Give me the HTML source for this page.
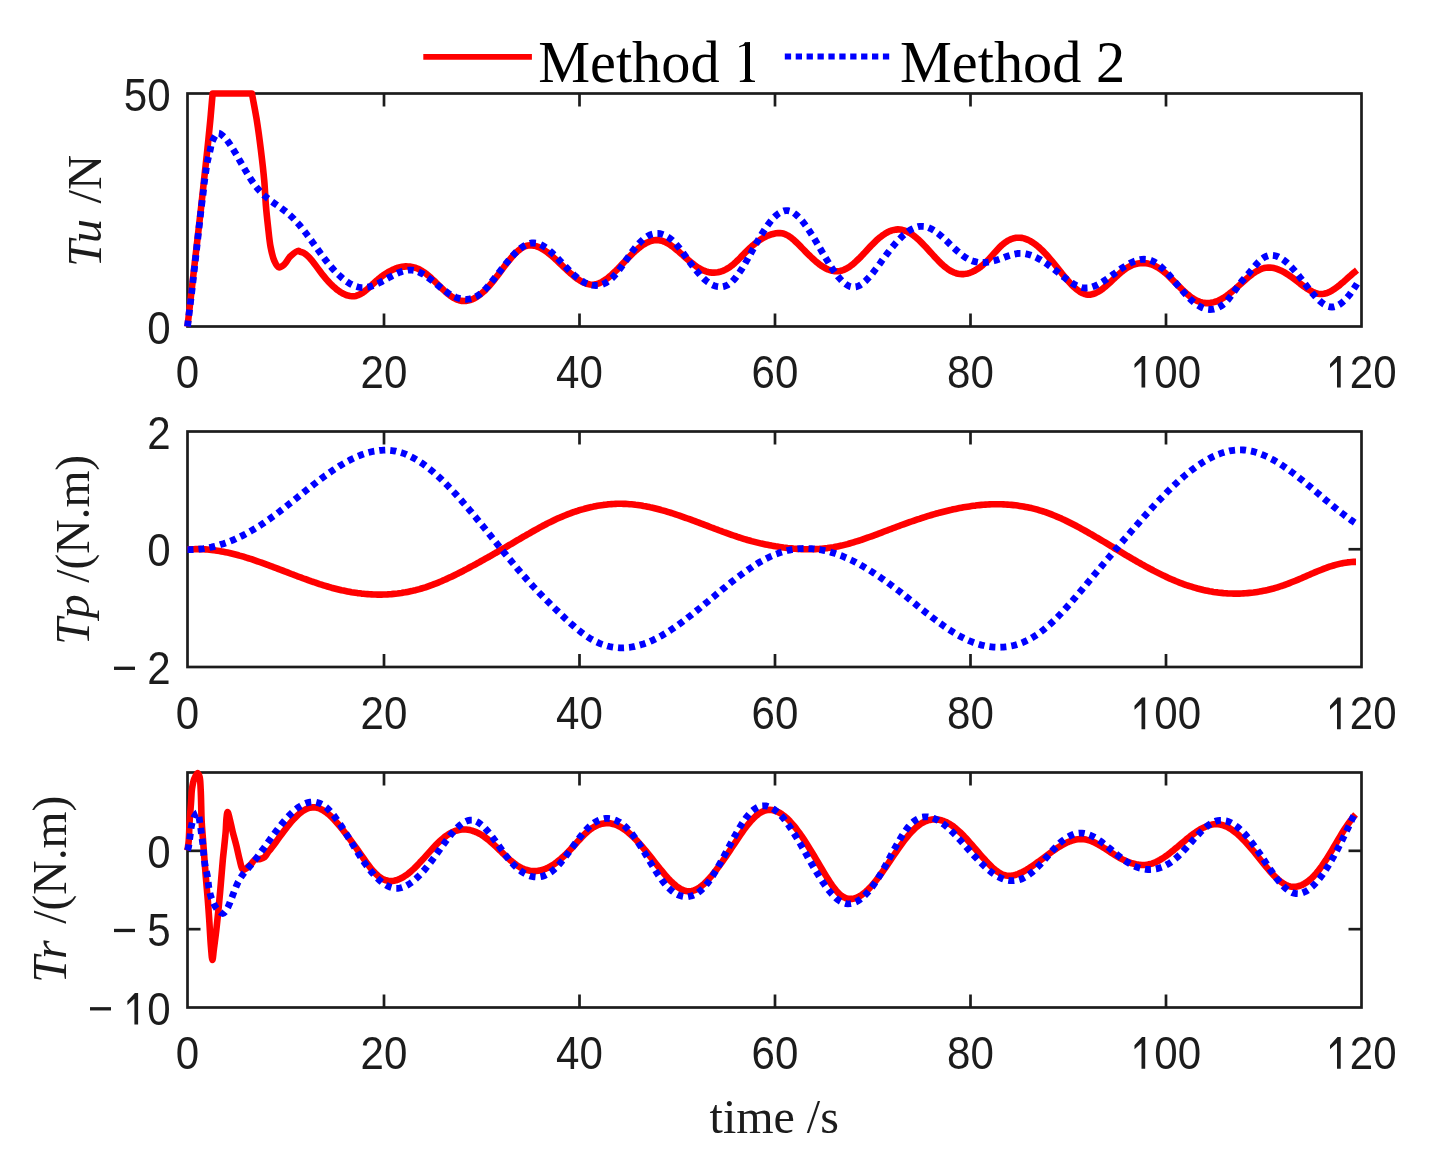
<!DOCTYPE html>
<html><head><meta charset="utf-8"><style>html,body{margin:0;padding:0;background:#fff;overflow:hidden}svg{display:block;will-change:transform}</style></head>
<body><svg width="1432" height="1157" viewBox="0 0 1432 1157">
<rect width="1432" height="1157" fill="#fff"/>
<rect x="187.5" y="93.5" width="1174.0" height="233.0" fill="none" stroke="#1c1c1c" stroke-width="2.7"/>
<text transform="translate(175.80,387.60) scale(0.895,1.0)" font-family="'Liberation Sans', sans-serif" font-size="47" text-anchor="start" fill="#1c1c1c" >0</text>
<line x1="384.00" y1="326.50" x2="384.00" y2="313.50" stroke="#1c1c1c" stroke-width="2.7"/>
<line x1="384.00" y1="93.50" x2="384.00" y2="106.50" stroke="#1c1c1c" stroke-width="2.7"/>
<text transform="translate(360.61,387.60) scale(0.895,1.0)" font-family="'Liberation Sans', sans-serif" font-size="47" text-anchor="start" fill="#1c1c1c" >2</text>
<text transform="translate(384.00,387.60) scale(0.895,1.0)" font-family="'Liberation Sans', sans-serif" font-size="47" text-anchor="start" fill="#1c1c1c" >0</text>
<line x1="579.50" y1="326.50" x2="579.50" y2="313.50" stroke="#1c1c1c" stroke-width="2.7"/>
<line x1="579.50" y1="93.50" x2="579.50" y2="106.50" stroke="#1c1c1c" stroke-width="2.7"/>
<text transform="translate(556.11,387.60) scale(0.895,1.0)" font-family="'Liberation Sans', sans-serif" font-size="47" text-anchor="start" fill="#1c1c1c" >4</text>
<text transform="translate(579.50,387.60) scale(0.895,1.0)" font-family="'Liberation Sans', sans-serif" font-size="47" text-anchor="start" fill="#1c1c1c" >0</text>
<line x1="775.00" y1="326.50" x2="775.00" y2="313.50" stroke="#1c1c1c" stroke-width="2.7"/>
<line x1="775.00" y1="93.50" x2="775.00" y2="106.50" stroke="#1c1c1c" stroke-width="2.7"/>
<text transform="translate(751.61,387.60) scale(0.895,1.0)" font-family="'Liberation Sans', sans-serif" font-size="47" text-anchor="start" fill="#1c1c1c" >6</text>
<text transform="translate(775.00,387.60) scale(0.895,1.0)" font-family="'Liberation Sans', sans-serif" font-size="47" text-anchor="start" fill="#1c1c1c" >0</text>
<line x1="970.50" y1="326.50" x2="970.50" y2="313.50" stroke="#1c1c1c" stroke-width="2.7"/>
<line x1="970.50" y1="93.50" x2="970.50" y2="106.50" stroke="#1c1c1c" stroke-width="2.7"/>
<text transform="translate(947.11,387.60) scale(0.895,1.0)" font-family="'Liberation Sans', sans-serif" font-size="47" text-anchor="start" fill="#1c1c1c" >8</text>
<text transform="translate(970.50,387.60) scale(0.895,1.0)" font-family="'Liberation Sans', sans-serif" font-size="47" text-anchor="start" fill="#1c1c1c" >0</text>
<line x1="1166.00" y1="326.50" x2="1166.00" y2="313.50" stroke="#1c1c1c" stroke-width="2.7"/>
<line x1="1166.00" y1="93.50" x2="1166.00" y2="106.50" stroke="#1c1c1c" stroke-width="2.7"/>
<path d="M1141.51,387.60 L1141.51,361.80 L1134.51,368.10 L1134.51,364.10 L1142.01,356.00 L1145.21,356.00 L1145.21,387.60 Z" fill="#1c1c1c"/>
<text transform="translate(1154.30,387.60) scale(0.895,1.0)" font-family="'Liberation Sans', sans-serif" font-size="47" text-anchor="start" fill="#1c1c1c" >0</text>
<text transform="translate(1177.70,387.60) scale(0.895,1.0)" font-family="'Liberation Sans', sans-serif" font-size="47" text-anchor="start" fill="#1c1c1c" >0</text>
<path d="M1337.01,387.60 L1337.01,361.80 L1330.01,368.10 L1330.01,364.10 L1337.51,356.00 L1340.71,356.00 L1340.71,387.60 Z" fill="#1c1c1c"/>
<text transform="translate(1349.80,387.60) scale(0.895,1.0)" font-family="'Liberation Sans', sans-serif" font-size="47" text-anchor="start" fill="#1c1c1c" >2</text>
<text transform="translate(1373.20,387.60) scale(0.895,1.0)" font-family="'Liberation Sans', sans-serif" font-size="47" text-anchor="start" fill="#1c1c1c" >0</text>
<text transform="translate(147.21,343.50) scale(0.895,1.0)" font-family="'Liberation Sans', sans-serif" font-size="47" text-anchor="start" fill="#1c1c1c" >0</text>
<text transform="translate(123.81,110.50) scale(0.895,1.0)" font-family="'Liberation Sans', sans-serif" font-size="47" text-anchor="start" fill="#1c1c1c" >5</text>
<text transform="translate(147.21,110.50) scale(0.895,1.0)" font-family="'Liberation Sans', sans-serif" font-size="47" text-anchor="start" fill="#1c1c1c" >0</text>
<rect x="187.5" y="431.5" width="1174.0" height="235.5" fill="none" stroke="#1c1c1c" stroke-width="2.7"/>
<text transform="translate(175.80,729.20) scale(0.895,1.0)" font-family="'Liberation Sans', sans-serif" font-size="47" text-anchor="start" fill="#1c1c1c" >0</text>
<line x1="384.00" y1="667.00" x2="384.00" y2="654.00" stroke="#1c1c1c" stroke-width="2.7"/>
<line x1="384.00" y1="431.50" x2="384.00" y2="444.50" stroke="#1c1c1c" stroke-width="2.7"/>
<text transform="translate(360.61,729.20) scale(0.895,1.0)" font-family="'Liberation Sans', sans-serif" font-size="47" text-anchor="start" fill="#1c1c1c" >2</text>
<text transform="translate(384.00,729.20) scale(0.895,1.0)" font-family="'Liberation Sans', sans-serif" font-size="47" text-anchor="start" fill="#1c1c1c" >0</text>
<line x1="579.50" y1="667.00" x2="579.50" y2="654.00" stroke="#1c1c1c" stroke-width="2.7"/>
<line x1="579.50" y1="431.50" x2="579.50" y2="444.50" stroke="#1c1c1c" stroke-width="2.7"/>
<text transform="translate(556.11,729.20) scale(0.895,1.0)" font-family="'Liberation Sans', sans-serif" font-size="47" text-anchor="start" fill="#1c1c1c" >4</text>
<text transform="translate(579.50,729.20) scale(0.895,1.0)" font-family="'Liberation Sans', sans-serif" font-size="47" text-anchor="start" fill="#1c1c1c" >0</text>
<line x1="775.00" y1="667.00" x2="775.00" y2="654.00" stroke="#1c1c1c" stroke-width="2.7"/>
<line x1="775.00" y1="431.50" x2="775.00" y2="444.50" stroke="#1c1c1c" stroke-width="2.7"/>
<text transform="translate(751.61,729.20) scale(0.895,1.0)" font-family="'Liberation Sans', sans-serif" font-size="47" text-anchor="start" fill="#1c1c1c" >6</text>
<text transform="translate(775.00,729.20) scale(0.895,1.0)" font-family="'Liberation Sans', sans-serif" font-size="47" text-anchor="start" fill="#1c1c1c" >0</text>
<line x1="970.50" y1="667.00" x2="970.50" y2="654.00" stroke="#1c1c1c" stroke-width="2.7"/>
<line x1="970.50" y1="431.50" x2="970.50" y2="444.50" stroke="#1c1c1c" stroke-width="2.7"/>
<text transform="translate(947.11,729.20) scale(0.895,1.0)" font-family="'Liberation Sans', sans-serif" font-size="47" text-anchor="start" fill="#1c1c1c" >8</text>
<text transform="translate(970.50,729.20) scale(0.895,1.0)" font-family="'Liberation Sans', sans-serif" font-size="47" text-anchor="start" fill="#1c1c1c" >0</text>
<line x1="1166.00" y1="667.00" x2="1166.00" y2="654.00" stroke="#1c1c1c" stroke-width="2.7"/>
<line x1="1166.00" y1="431.50" x2="1166.00" y2="444.50" stroke="#1c1c1c" stroke-width="2.7"/>
<path d="M1141.51,729.20 L1141.51,703.40 L1134.51,709.70 L1134.51,705.70 L1142.01,697.60 L1145.21,697.60 L1145.21,729.20 Z" fill="#1c1c1c"/>
<text transform="translate(1154.30,729.20) scale(0.895,1.0)" font-family="'Liberation Sans', sans-serif" font-size="47" text-anchor="start" fill="#1c1c1c" >0</text>
<text transform="translate(1177.70,729.20) scale(0.895,1.0)" font-family="'Liberation Sans', sans-serif" font-size="47" text-anchor="start" fill="#1c1c1c" >0</text>
<path d="M1337.01,729.20 L1337.01,703.40 L1330.01,709.70 L1330.01,705.70 L1337.51,697.60 L1340.71,697.60 L1340.71,729.20 Z" fill="#1c1c1c"/>
<text transform="translate(1349.80,729.20) scale(0.895,1.0)" font-family="'Liberation Sans', sans-serif" font-size="47" text-anchor="start" fill="#1c1c1c" >2</text>
<text transform="translate(1373.20,729.20) scale(0.895,1.0)" font-family="'Liberation Sans', sans-serif" font-size="47" text-anchor="start" fill="#1c1c1c" >0</text>
<text transform="translate(147.21,684.00) scale(0.895,1.0)" font-family="'Liberation Sans', sans-serif" font-size="47" text-anchor="start" fill="#1c1c1c" >2</text>
<rect x="114.00" y="666.65" width="21" height="3.3" fill="#1c1c1c"/>
<line x1="187.50" y1="549.25" x2="200.50" y2="549.25" stroke="#1c1c1c" stroke-width="2.7"/>
<line x1="1361.50" y1="549.25" x2="1348.50" y2="549.25" stroke="#1c1c1c" stroke-width="2.7"/>
<text transform="translate(147.21,566.25) scale(0.895,1.0)" font-family="'Liberation Sans', sans-serif" font-size="47" text-anchor="start" fill="#1c1c1c" >0</text>
<text transform="translate(147.21,448.50) scale(0.895,1.0)" font-family="'Liberation Sans', sans-serif" font-size="47" text-anchor="start" fill="#1c1c1c" >2</text>
<rect x="187.5" y="772.5" width="1174.0" height="235.0" fill="none" stroke="#1c1c1c" stroke-width="2.7"/>
<text transform="translate(175.80,1068.70) scale(0.895,1.0)" font-family="'Liberation Sans', sans-serif" font-size="47" text-anchor="start" fill="#1c1c1c" >0</text>
<line x1="384.00" y1="1007.50" x2="384.00" y2="994.50" stroke="#1c1c1c" stroke-width="2.7"/>
<line x1="384.00" y1="772.50" x2="384.00" y2="785.50" stroke="#1c1c1c" stroke-width="2.7"/>
<text transform="translate(360.61,1068.70) scale(0.895,1.0)" font-family="'Liberation Sans', sans-serif" font-size="47" text-anchor="start" fill="#1c1c1c" >2</text>
<text transform="translate(384.00,1068.70) scale(0.895,1.0)" font-family="'Liberation Sans', sans-serif" font-size="47" text-anchor="start" fill="#1c1c1c" >0</text>
<line x1="579.50" y1="1007.50" x2="579.50" y2="994.50" stroke="#1c1c1c" stroke-width="2.7"/>
<line x1="579.50" y1="772.50" x2="579.50" y2="785.50" stroke="#1c1c1c" stroke-width="2.7"/>
<text transform="translate(556.11,1068.70) scale(0.895,1.0)" font-family="'Liberation Sans', sans-serif" font-size="47" text-anchor="start" fill="#1c1c1c" >4</text>
<text transform="translate(579.50,1068.70) scale(0.895,1.0)" font-family="'Liberation Sans', sans-serif" font-size="47" text-anchor="start" fill="#1c1c1c" >0</text>
<line x1="775.00" y1="1007.50" x2="775.00" y2="994.50" stroke="#1c1c1c" stroke-width="2.7"/>
<line x1="775.00" y1="772.50" x2="775.00" y2="785.50" stroke="#1c1c1c" stroke-width="2.7"/>
<text transform="translate(751.61,1068.70) scale(0.895,1.0)" font-family="'Liberation Sans', sans-serif" font-size="47" text-anchor="start" fill="#1c1c1c" >6</text>
<text transform="translate(775.00,1068.70) scale(0.895,1.0)" font-family="'Liberation Sans', sans-serif" font-size="47" text-anchor="start" fill="#1c1c1c" >0</text>
<line x1="970.50" y1="1007.50" x2="970.50" y2="994.50" stroke="#1c1c1c" stroke-width="2.7"/>
<line x1="970.50" y1="772.50" x2="970.50" y2="785.50" stroke="#1c1c1c" stroke-width="2.7"/>
<text transform="translate(947.11,1068.70) scale(0.895,1.0)" font-family="'Liberation Sans', sans-serif" font-size="47" text-anchor="start" fill="#1c1c1c" >8</text>
<text transform="translate(970.50,1068.70) scale(0.895,1.0)" font-family="'Liberation Sans', sans-serif" font-size="47" text-anchor="start" fill="#1c1c1c" >0</text>
<line x1="1166.00" y1="1007.50" x2="1166.00" y2="994.50" stroke="#1c1c1c" stroke-width="2.7"/>
<line x1="1166.00" y1="772.50" x2="1166.00" y2="785.50" stroke="#1c1c1c" stroke-width="2.7"/>
<path d="M1141.51,1068.70 L1141.51,1042.90 L1134.51,1049.20 L1134.51,1045.20 L1142.01,1037.10 L1145.21,1037.10 L1145.21,1068.70 Z" fill="#1c1c1c"/>
<text transform="translate(1154.30,1068.70) scale(0.895,1.0)" font-family="'Liberation Sans', sans-serif" font-size="47" text-anchor="start" fill="#1c1c1c" >0</text>
<text transform="translate(1177.70,1068.70) scale(0.895,1.0)" font-family="'Liberation Sans', sans-serif" font-size="47" text-anchor="start" fill="#1c1c1c" >0</text>
<path d="M1337.01,1068.70 L1337.01,1042.90 L1330.01,1049.20 L1330.01,1045.20 L1337.51,1037.10 L1340.71,1037.10 L1340.71,1068.70 Z" fill="#1c1c1c"/>
<text transform="translate(1349.80,1068.70) scale(0.895,1.0)" font-family="'Liberation Sans', sans-serif" font-size="47" text-anchor="start" fill="#1c1c1c" >2</text>
<text transform="translate(1373.20,1068.70) scale(0.895,1.0)" font-family="'Liberation Sans', sans-serif" font-size="47" text-anchor="start" fill="#1c1c1c" >0</text>
<path d="M134.41,1024.50 L134.41,998.70 L127.41,1005.00 L127.41,1001.00 L134.91,992.90 L138.11,992.90 L138.11,1024.50 Z" fill="#1c1c1c"/>
<text transform="translate(147.21,1024.50) scale(0.895,1.0)" font-family="'Liberation Sans', sans-serif" font-size="47" text-anchor="start" fill="#1c1c1c" >0</text>
<rect x="90.00" y="1007.15" width="21" height="3.3" fill="#1c1c1c"/>
<line x1="187.50" y1="929.17" x2="200.50" y2="929.17" stroke="#1c1c1c" stroke-width="2.7"/>
<line x1="1361.50" y1="929.17" x2="1348.50" y2="929.17" stroke="#1c1c1c" stroke-width="2.7"/>
<text transform="translate(147.21,946.17) scale(0.895,1.0)" font-family="'Liberation Sans', sans-serif" font-size="47" text-anchor="start" fill="#1c1c1c" >5</text>
<rect x="114.00" y="928.82" width="21" height="3.3" fill="#1c1c1c"/>
<line x1="187.50" y1="850.83" x2="200.50" y2="850.83" stroke="#1c1c1c" stroke-width="2.7"/>
<line x1="1361.50" y1="850.83" x2="1348.50" y2="850.83" stroke="#1c1c1c" stroke-width="2.7"/>
<text transform="translate(147.21,867.83) scale(0.895,1.0)" font-family="'Liberation Sans', sans-serif" font-size="47" text-anchor="start" fill="#1c1c1c" >0</text>
<text transform="translate(100.70,266.95) rotate(-90)" font-family="'Liberation Serif', serif" font-size="48" font-style="italic" fill="#1c1c1c">Tu</text>
<text transform="translate(100.70,203.50) rotate(-90) scale(1.015,1)" font-family="'Liberation Serif', serif" font-size="48" fill="#1c1c1c">/N</text>
<text transform="translate(89.40,644.95) rotate(-90)" font-family="'Liberation Serif', serif" font-size="48" font-style="italic" fill="#1c1c1c">Tp</text>
<text transform="translate(89.40,582.80) rotate(-90) scale(0.99,1)" font-family="'Liberation Serif', serif" font-size="48" fill="#1c1c1c">/(N.m)</text>
<text transform="translate(65.60,983.05) rotate(-90)" font-family="'Liberation Serif', serif" font-size="48" font-style="italic" fill="#1c1c1c">Tr</text>
<text transform="translate(65.60,923.70) rotate(-90) scale(0.99,1)" font-family="'Liberation Serif', serif" font-size="48" fill="#1c1c1c">/(N.m)</text>
<text transform="translate(774.20,1132.80) scale(1.0,1.0)" font-family="'Liberation Serif', serif" font-size="48" text-anchor="middle" fill="#1c1c1c" >time /s</text>
<line x1="423.3" y1="56.9" x2="531.9" y2="56.9" stroke="#ff0000" stroke-width="5.8"/>
<text transform="translate(538.20,82.00) scale(1.0,1.0)" font-family="'Liberation Serif', serif" font-size="58.3" text-anchor="start" fill="#000" >Method</text>
<path d="M745.0,42.2 L750.0,41.9 L750.0,81 L745.0,81 Z" fill="#000"/><path d="M739.8,82.1 L755.0,82.1 L755.0,80.7 L751.8,80.2 L750.0,78.8 L745.0,78.8 L743.2,80.2 L739.8,80.7 Z" fill="#000"/><path d="M739.0,46.6 Q740.5,45.0 742.2,44.9 Q743.6,44.8 745.0,42.3 L746,43 L746,45.6 Q744.4,46.2 742.6,46.3 Q741.0,46.4 739.6,47.6 Z" fill="#000"/>
<line x1="784.8" y1="56.6" x2="889.5" y2="56.6" stroke="#0000ff" stroke-width="6" stroke-dasharray="6.3 4.6"/>
<text transform="translate(900.00,81.80) scale(1.0,1.0)" font-family="'Liberation Serif', serif" font-size="58.3" text-anchor="start" fill="#000" >Method 2</text>
<clipPath id="c1"><rect x="180" y="90" width="1185" height="240"/></clipPath>
<g clip-path="url(#c1)"><path d="M187.50,326.50 C189.83,306.00 192.20,285.17 194.50,265.00 C196.73,245.46 199.38,222.75 201.10,207.30 C202.25,196.93 202.92,190.35 203.90,181.30 C204.97,171.40 206.22,160.57 207.30,150.20 C208.38,139.84 209.53,128.42 210.40,119.10 C211.11,111.50 211.77,102.92 212.20,98.40 C212.41,96.20 212.53,95.13 212.70,93.50 L251.90,93.50 C253.47,102.03 255.16,110.14 256.60,119.10 C258.18,128.95 259.62,139.82 260.90,150.20 C262.18,160.56 263.45,171.56 264.30,181.30 C265.05,189.89 265.25,197.83 265.90,205.60 C266.50,212.78 267.22,219.40 268.00,226.30 C268.78,233.20 269.40,240.87 270.60,247.00 C271.58,252.02 272.53,256.88 274.20,260.50 C275.49,263.29 277.07,266.84 278.90,267.30 C280.42,267.68 282.36,266.07 284.00,264.70 C286.21,262.85 287.84,258.75 290.30,256.40 C292.72,254.09 297.00,250.66 298.60,250.70 C299.27,250.71 299.53,251.40 300.00,251.76 L300.0,251.8 302.0,252.2 304.0,253.1 306.0,254.5 308.0,256.2 310.0,258.3 312.0,260.7 314.0,263.2 316.0,265.9 318.0,268.6 320.0,271.3 322.0,273.9 324.0,276.4 326.0,278.8 328.0,281.1 330.0,283.2 332.0,285.3 334.0,287.1 336.0,288.8 338.0,290.4 340.0,291.8 342.0,293.0 344.0,294.1 346.0,295.0 348.0,295.6 350.0,296.0 352.0,296.2 354.0,296.2 356.0,295.9 358.0,295.2 360.0,294.3 362.0,293.2 364.0,291.8 366.0,290.2 368.0,288.5 370.0,286.7 372.0,284.8 374.0,283.0 376.0,281.1 378.0,279.4 380.0,277.8 382.0,276.2 384.0,274.8 386.0,273.5 388.0,272.2 390.0,271.1 392.0,270.1 394.0,269.2 396.0,268.4 398.0,267.7 400.0,267.2 402.0,266.8 404.0,266.6 406.0,266.4 408.0,266.5 410.0,266.6 412.0,266.9 414.0,267.4 416.0,268.0 418.0,268.8 420.0,269.8 422.0,270.9 424.0,272.2 426.0,273.7 428.0,275.3 430.0,277.0 432.0,278.9 434.0,280.7 436.0,282.7 438.0,284.6 440.0,286.6 442.0,288.5 444.0,290.4 446.0,292.2 448.0,293.9 450.0,295.5 452.0,296.9 454.0,298.1 456.0,299.1 458.0,299.9 460.0,300.5 462.0,300.9 464.0,301.0 466.0,300.9 468.0,300.6 470.0,300.1 472.0,299.4 474.0,298.5 476.0,297.4 478.0,296.1 480.0,294.6 482.0,293.0 484.0,291.3 486.0,289.3 488.0,287.2 490.0,285.0 492.0,282.7 494.0,280.2 496.0,277.6 498.0,275.0 500.0,272.3 502.0,269.6 504.0,266.9 506.0,264.3 508.0,261.7 510.0,259.3 512.0,256.9 514.0,254.7 516.0,252.7 518.0,250.9 520.0,249.3 522.0,247.9 524.0,246.8 526.0,246.0 528.0,245.5 530.0,245.3 532.0,245.4 534.0,245.6 536.0,246.1 538.0,246.8 540.0,247.7 542.0,248.8 544.0,250.0 546.0,251.4 548.0,252.8 550.0,254.4 552.0,256.1 554.0,257.9 556.0,259.7 558.0,261.6 560.0,263.5 562.0,265.4 564.0,267.3 566.0,269.2 568.0,271.1 570.0,272.9 572.0,274.6 574.0,276.3 576.0,277.8 578.0,279.3 580.0,280.6 582.0,281.7 584.0,282.7 586.0,283.5 588.0,284.1 590.0,284.5 592.0,284.7 594.0,284.6 596.0,284.3 598.0,283.7 600.0,282.9 602.0,281.9 604.0,280.7 606.0,279.3 608.0,277.8 610.0,276.2 612.0,274.4 614.0,272.5 616.0,270.6 618.0,268.6 620.0,266.5 622.0,264.4 624.0,262.3 626.0,260.2 628.0,258.1 630.0,256.1 632.0,254.1 634.0,252.2 636.0,250.4 638.0,248.7 640.0,247.1 642.0,245.6 644.0,244.3 646.0,243.1 648.0,242.2 650.0,241.3 652.0,240.7 654.0,240.3 656.0,240.1 658.0,240.1 660.0,240.4 662.0,240.8 664.0,241.6 666.0,242.5 668.0,243.5 670.0,244.8 672.0,246.2 674.0,247.7 676.0,249.3 678.0,250.9 680.0,252.7 682.0,254.4 684.0,256.2 686.0,258.0 688.0,259.8 690.0,261.5 692.0,263.1 694.0,264.7 696.0,266.2 698.0,267.5 700.0,268.7 702.0,269.8 704.0,270.7 706.0,271.4 708.0,272.0 710.0,272.4 712.0,272.6 714.0,272.6 716.0,272.5 718.0,272.3 720.0,271.8 722.0,271.2 724.0,270.4 726.0,269.4 728.0,268.2 730.0,266.9 732.0,265.4 734.0,263.7 736.0,261.9 738.0,260.0 740.0,258.0 742.0,255.9 744.0,253.9 746.0,251.8 748.0,249.8 750.0,247.9 752.0,246.1 754.0,244.4 756.0,242.8 758.0,241.3 760.0,239.9 762.0,238.7 764.0,237.5 766.0,236.5 768.0,235.6 770.0,234.9 772.0,234.2 774.0,233.7 776.0,233.3 778.0,233.1 780.0,233.1 782.0,233.3 784.0,233.8 786.0,234.6 788.0,235.6 790.0,236.9 792.0,238.4 794.0,240.1 796.0,242.0 798.0,243.9 800.0,245.9 802.0,248.0 804.0,250.0 806.0,252.1 808.0,254.1 810.0,256.0 812.0,258.0 814.0,259.8 816.0,261.6 818.0,263.2 820.0,264.8 822.0,266.2 824.0,267.4 826.0,268.5 828.0,269.5 830.0,270.2 832.0,270.8 834.0,271.1 836.0,271.3 838.0,271.2 840.0,271.0 842.0,270.5 844.0,269.8 846.0,268.8 848.0,267.7 850.0,266.4 852.0,264.9 854.0,263.2 856.0,261.4 858.0,259.5 860.0,257.6 862.0,255.5 864.0,253.4 866.0,251.2 868.0,249.0 870.0,246.9 872.0,244.8 874.0,242.8 876.0,240.8 878.0,239.0 880.0,237.3 882.0,235.8 884.0,234.4 886.0,233.1 888.0,232.0 890.0,231.1 892.0,230.4 894.0,229.9 896.0,229.6 898.0,229.4 900.0,229.5 902.0,229.8 904.0,230.4 906.0,231.1 908.0,232.0 910.0,233.1 912.0,234.4 914.0,235.9 916.0,237.5 918.0,239.2 920.0,241.1 922.0,243.1 924.0,245.2 926.0,247.3 928.0,249.5 930.0,251.7 932.0,253.9 934.0,256.1 936.0,258.2 938.0,260.3 940.0,262.3 942.0,264.3 944.0,266.1 946.0,267.7 948.0,269.2 950.0,270.5 952.0,271.6 954.0,272.5 956.0,273.2 958.0,273.7 960.0,274.0 962.0,274.1 964.0,274.1 966.0,273.8 968.0,273.4 970.0,272.8 972.0,272.0 974.0,271.1 976.0,269.9 978.0,268.7 980.0,267.3 982.0,265.7 984.0,263.9 986.0,262.1 988.0,260.1 990.0,257.9 992.0,255.7 994.0,253.4 996.0,251.2 998.0,249.0 1000.0,246.9 1002.0,245.0 1004.0,243.4 1006.0,241.9 1008.0,240.6 1010.0,239.6 1012.0,238.8 1014.0,238.2 1016.0,237.8 1018.0,237.7 1020.0,237.7 1022.0,237.9 1024.0,238.4 1026.0,239.1 1028.0,239.9 1030.0,240.9 1032.0,242.1 1034.0,243.4 1036.0,244.9 1038.0,246.5 1040.0,248.3 1042.0,250.2 1044.0,252.2 1046.0,254.3 1048.0,256.5 1050.0,258.8 1052.0,261.1 1054.0,263.5 1056.0,266.0 1058.0,268.5 1060.0,271.0 1062.0,273.6 1064.0,276.0 1066.0,278.4 1068.0,280.8 1070.0,283.0 1072.0,285.1 1074.0,287.1 1076.0,288.9 1078.0,290.4 1080.0,291.8 1082.0,293.0 1084.0,293.8 1086.0,294.4 1088.0,294.7 1090.0,294.7 1092.0,294.3 1094.0,293.8 1096.0,292.9 1098.0,291.9 1100.0,290.7 1102.0,289.3 1104.0,287.7 1106.0,286.1 1108.0,284.3 1110.0,282.5 1112.0,280.6 1114.0,278.7 1116.0,276.9 1118.0,275.0 1120.0,273.3 1122.0,271.6 1124.0,270.0 1126.0,268.6 1128.0,267.3 1130.0,266.3 1132.0,265.3 1134.0,264.5 1136.0,263.9 1138.0,263.5 1140.0,263.2 1142.0,263.0 1144.0,263.1 1146.0,263.2 1148.0,263.6 1150.0,264.1 1152.0,264.7 1154.0,265.5 1156.0,266.5 1158.0,267.6 1160.0,268.9 1162.0,270.4 1164.0,271.9 1166.0,273.6 1168.0,275.4 1170.0,277.3 1172.0,279.3 1174.0,281.3 1176.0,283.3 1178.0,285.3 1180.0,287.3 1182.0,289.3 1184.0,291.2 1186.0,293.0 1188.0,294.7 1190.0,296.3 1192.0,297.8 1194.0,299.1 1196.0,300.2 1198.0,301.2 1200.0,301.9 1202.0,302.5 1204.0,302.9 1206.0,303.1 1208.0,303.1 1210.0,303.0 1212.0,302.6 1214.0,302.1 1216.0,301.5 1218.0,300.7 1220.0,299.8 1222.0,298.7 1224.0,297.5 1226.0,296.2 1228.0,294.8 1230.0,293.2 1232.0,291.6 1234.0,289.9 1236.0,288.2 1238.0,286.4 1240.0,284.6 1242.0,282.8 1244.0,281.0 1246.0,279.2 1248.0,277.5 1250.0,275.9 1252.0,274.3 1254.0,272.9 1256.0,271.6 1258.0,270.5 1260.0,269.5 1262.0,268.7 1264.0,268.1 1266.0,267.7 1268.0,267.6 1270.0,267.6 1272.0,267.8 1274.0,268.1 1276.0,268.7 1278.0,269.4 1280.0,270.2 1282.0,271.1 1284.0,272.2 1286.0,273.4 1288.0,274.6 1290.0,276.0 1292.0,277.4 1294.0,278.9 1296.0,280.4 1298.0,281.9 1300.0,283.5 1302.0,285.0 1304.0,286.5 1306.0,287.9 1308.0,289.2 1310.0,290.4 1312.0,291.5 1314.0,292.4 1316.0,293.2 1318.0,293.7 1320.0,294.0 1322.0,294.0 1324.0,293.8 1326.0,293.3 1328.0,292.6 1330.0,291.7 1332.0,290.6 1334.0,289.3 1336.0,287.9 1338.0,286.4 1340.0,284.8 1342.0,283.1 1344.0,281.4 1346.0,279.6 1348.0,277.8 1350.0,276.1 1352.0,274.3 1354.0,272.6 1356.0,271.0 1357.0,270.2" fill="none" stroke="#ff0000" stroke-width="6.6" stroke-linejoin="round"/><path d="M187.50,326.50 C189.07,313.67 190.70,300.79 192.20,288.00 C193.69,275.30 195.00,263.19 196.50,250.00 C198.13,235.68 200.37,215.21 201.60,205.20 C202.22,200.14 202.66,197.52 203.10,193.80 C203.52,190.26 203.77,186.90 204.20,183.40 C204.64,179.81 205.18,176.08 205.70,172.50 C206.21,169.02 206.62,165.67 207.30,162.20 C208.01,158.60 209.02,154.89 209.90,151.30 C210.76,147.79 211.05,143.99 212.50,140.90 C213.88,137.96 215.94,133.47 218.20,133.10 C220.45,132.73 223.40,136.78 226.00,138.62 L226.0,138.6 228.0,141.4 230.0,144.3 232.0,147.4 234.0,150.7 236.0,154.0 238.0,157.5 240.0,161.0 242.0,164.5 244.0,168.0 246.0,171.4 248.0,174.7 250.0,178.0 252.0,181.0 254.0,183.9 256.0,186.6 258.0,189.1 260.0,191.3 262.0,193.4 264.0,195.3 266.0,197.0 268.0,198.7 270.0,200.2 272.0,201.7 274.0,203.1 276.0,204.5 278.0,205.9 280.0,207.2 282.0,208.7 284.0,210.2 286.0,211.7 288.0,213.4 290.0,215.2 292.0,217.1 294.0,219.1 296.0,221.3 298.0,223.5 300.0,225.8 302.0,228.3 304.0,230.7 306.0,233.3 308.0,236.0 310.0,238.7 312.0,241.4 314.0,244.2 316.0,247.0 318.0,249.8 320.0,252.6 322.0,255.3 324.0,258.0 326.0,260.6 328.0,263.1 330.0,265.5 332.0,267.9 334.0,270.1 336.0,272.2 338.0,274.2 340.0,276.1 342.0,277.9 344.0,279.6 346.0,281.1 348.0,282.5 350.0,283.7 352.0,284.7 354.0,285.7 356.0,286.4 358.0,287.0 360.0,287.4 362.0,287.6 364.0,287.6 366.0,287.4 368.0,287.1 370.0,286.6 372.0,286.0 374.0,285.2 376.0,284.4 378.0,283.5 380.0,282.5 382.0,281.4 384.0,280.3 386.0,279.2 388.0,278.1 390.0,277.0 392.0,275.9 394.0,274.9 396.0,273.9 398.0,273.0 400.0,272.2 402.0,271.5 404.0,270.9 406.0,270.5 408.0,270.2 410.0,270.1 412.0,270.2 414.0,270.5 416.0,271.0 418.0,271.7 420.0,272.6 422.0,273.6 424.0,274.8 426.0,276.1 428.0,277.5 430.0,279.0 432.0,280.5 434.0,282.1 436.0,283.7 438.0,285.4 440.0,287.0 442.0,288.6 444.0,290.1 446.0,291.6 448.0,293.0 450.0,294.3 452.0,295.4 454.0,296.4 456.0,297.3 458.0,298.1 460.0,298.6 462.0,299.1 464.0,299.3 466.0,299.4 468.0,299.2 470.0,298.9 472.0,298.4 474.0,297.6 476.0,296.7 478.0,295.5 480.0,294.1 482.0,292.4 484.0,290.6 486.0,288.5 488.0,286.3 490.0,283.9 492.0,281.4 494.0,278.9 496.0,276.3 498.0,273.8 500.0,271.2 502.0,268.6 504.0,266.0 506.0,263.5 508.0,261.1 510.0,258.7 512.0,256.5 514.0,254.3 516.0,252.3 518.0,250.4 520.0,248.7 522.0,247.2 524.0,245.9 526.0,244.8 528.0,243.9 530.0,243.3 532.0,243.0 534.0,242.9 536.0,243.1 538.0,243.6 540.0,244.3 542.0,245.3 544.0,246.5 546.0,247.8 548.0,249.3 550.0,251.0 552.0,252.8 554.0,254.7 556.0,256.6 558.0,258.7 560.0,260.8 562.0,262.9 564.0,265.0 566.0,267.1 568.0,269.2 570.0,271.2 572.0,273.1 574.0,275.0 576.0,276.7 578.0,278.3 580.0,279.7 582.0,281.0 584.0,282.2 586.0,283.2 588.0,284.0 590.0,284.7 592.0,285.1 594.0,285.4 596.0,285.5 598.0,285.4 600.0,285.0 602.0,284.5 604.0,283.7 606.0,282.7 608.0,281.4 610.0,279.9 612.0,278.2 614.0,276.2 616.0,273.9 618.0,271.5 620.0,268.8 622.0,266.1 624.0,263.2 626.0,260.3 628.0,257.5 630.0,254.6 632.0,251.8 634.0,249.2 636.0,246.7 638.0,244.4 640.0,242.3 642.0,240.4 644.0,238.6 646.0,237.2 648.0,235.9 650.0,234.9 652.0,234.2 654.0,233.7 656.0,233.5 658.0,233.5 660.0,233.7 662.0,234.2 664.0,234.9 666.0,235.9 668.0,237.1 670.0,238.5 672.0,240.1 674.0,242.0 676.0,244.1 678.0,246.4 680.0,248.8 682.0,251.5 684.0,254.2 686.0,257.0 688.0,259.8 690.0,262.5 692.0,265.2 694.0,267.8 696.0,270.3 698.0,272.6 700.0,274.9 702.0,276.9 704.0,278.9 706.0,280.6 708.0,282.2 710.0,283.5 712.0,284.7 714.0,285.6 716.0,286.3 718.0,286.7 720.0,286.9 722.0,286.8 724.0,286.4 726.0,285.7 728.0,284.7 730.0,283.3 732.0,281.7 734.0,279.6 736.0,277.3 738.0,274.6 740.0,271.7 742.0,268.6 744.0,265.3 746.0,261.9 748.0,258.4 750.0,254.8 752.0,251.1 754.0,247.5 756.0,243.9 758.0,240.4 760.0,237.0 762.0,233.7 764.0,230.5 766.0,227.5 768.0,224.7 770.0,222.0 772.0,219.6 774.0,217.5 776.0,215.5 778.0,213.9 780.0,212.6 782.0,211.6 784.0,210.9 786.0,210.6 788.0,210.7 790.0,211.2 792.0,212.0 794.0,213.1 796.0,214.6 798.0,216.4 800.0,218.4 802.0,220.7 804.0,223.2 806.0,225.9 808.0,228.8 810.0,231.8 812.0,234.9 814.0,238.2 816.0,241.5 818.0,244.9 820.0,248.3 822.0,251.8 824.0,255.2 826.0,258.5 828.0,261.8 830.0,265.1 832.0,268.1 834.0,271.1 836.0,273.9 838.0,276.5 840.0,278.8 842.0,280.9 844.0,282.8 846.0,284.3 848.0,285.6 850.0,286.5 852.0,287.0 854.0,287.1 856.0,286.8 858.0,286.2 860.0,285.2 862.0,283.9 864.0,282.3 866.0,280.5 868.0,278.5 870.0,276.3 872.0,273.9 874.0,271.4 876.0,268.8 878.0,266.1 880.0,263.4 882.0,260.6 884.0,257.9 886.0,255.2 888.0,252.6 890.0,250.0 892.0,247.5 894.0,245.1 896.0,242.8 898.0,240.6 900.0,238.5 902.0,236.5 904.0,234.7 906.0,233.1 908.0,231.5 910.0,230.2 912.0,229.0 914.0,228.1 916.0,227.3 918.0,226.7 920.0,226.4 922.0,226.3 924.0,226.4 926.0,226.8 928.0,227.4 930.0,228.3 932.0,229.3 934.0,230.5 936.0,231.9 938.0,233.4 940.0,235.0 942.0,236.8 944.0,238.6 946.0,240.4 948.0,242.3 950.0,244.3 952.0,246.2 954.0,248.1 956.0,249.9 958.0,251.7 960.0,253.4 962.0,255.0 964.0,256.5 966.0,257.8 968.0,259.0 970.0,259.9 972.0,260.8 974.0,261.4 976.0,261.9 978.0,262.3 980.0,262.5 982.0,262.6 984.0,262.5 986.0,262.4 988.0,262.1 990.0,261.8 992.0,261.3 994.0,260.8 996.0,260.3 998.0,259.6 1000.0,258.9 1002.0,258.2 1004.0,257.5 1006.0,256.7 1008.0,256.0 1010.0,255.4 1012.0,254.7 1014.0,254.2 1016.0,253.8 1018.0,253.5 1020.0,253.4 1022.0,253.4 1024.0,253.5 1026.0,253.9 1028.0,254.3 1030.0,254.9 1032.0,255.6 1034.0,256.4 1036.0,257.3 1038.0,258.4 1040.0,259.5 1042.0,260.7 1044.0,262.0 1046.0,263.3 1048.0,264.7 1050.0,266.2 1052.0,267.7 1054.0,269.3 1056.0,270.8 1058.0,272.4 1060.0,274.1 1062.0,275.7 1064.0,277.2 1066.0,278.8 1068.0,280.3 1070.0,281.7 1072.0,283.0 1074.0,284.2 1076.0,285.3 1078.0,286.2 1080.0,286.9 1082.0,287.5 1084.0,287.8 1086.0,288.0 1088.0,287.9 1090.0,287.5 1092.0,287.0 1094.0,286.3 1096.0,285.5 1098.0,284.5 1100.0,283.4 1102.0,282.2 1104.0,280.9 1106.0,279.6 1108.0,278.2 1110.0,276.8 1112.0,275.3 1114.0,273.9 1116.0,272.4 1118.0,270.9 1120.0,269.5 1122.0,268.1 1124.0,266.8 1126.0,265.6 1128.0,264.4 1130.0,263.3 1132.0,262.3 1134.0,261.4 1136.0,260.7 1138.0,260.0 1140.0,259.6 1142.0,259.3 1144.0,259.2 1146.0,259.3 1148.0,259.5 1150.0,260.0 1152.0,260.8 1154.0,261.7 1156.0,262.9 1158.0,264.3 1160.0,265.9 1162.0,267.7 1164.0,269.6 1166.0,271.7 1168.0,273.9 1170.0,276.1 1172.0,278.4 1174.0,280.8 1176.0,283.2 1178.0,285.6 1180.0,288.0 1182.0,290.3 1184.0,292.6 1186.0,294.8 1188.0,296.9 1190.0,298.9 1192.0,300.8 1194.0,302.5 1196.0,304.0 1198.0,305.4 1200.0,306.6 1202.0,307.6 1204.0,308.4 1206.0,308.9 1208.0,309.3 1210.0,309.5 1212.0,309.4 1214.0,309.1 1216.0,308.6 1218.0,307.8 1220.0,306.7 1222.0,305.4 1224.0,303.8 1226.0,301.9 1228.0,299.7 1230.0,297.2 1232.0,294.6 1234.0,291.8 1236.0,289.0 1238.0,286.2 1240.0,283.5 1242.0,281.0 1244.0,278.7 1246.0,276.5 1248.0,274.3 1250.0,271.9 1252.0,269.5 1254.0,267.1 1256.0,264.8 1258.0,262.6 1260.0,260.6 1262.0,258.9 1264.0,257.5 1266.0,256.5 1268.0,255.8 1270.0,255.4 1272.0,255.3 1274.0,255.5 1276.0,256.0 1278.0,256.7 1280.0,257.7 1282.0,258.9 1284.0,260.3 1286.0,261.9 1288.0,263.7 1290.0,265.7 1292.0,267.8 1294.0,270.0 1296.0,272.3 1298.0,274.8 1300.0,277.3 1302.0,279.9 1304.0,282.5 1306.0,285.1 1308.0,287.7 1310.0,290.2 1312.0,292.7 1314.0,295.0 1316.0,297.3 1318.0,299.3 1320.0,301.2 1322.0,302.9 1324.0,304.3 1326.0,305.4 1328.0,306.3 1330.0,306.8 1332.0,307.0 1334.0,306.8 1336.0,306.3 1338.0,305.4 1340.0,304.2 1342.0,302.7 1344.0,300.9 1346.0,298.9 1348.0,296.6 1350.0,294.1 1352.0,291.3 1354.0,288.4 1356.0,285.3 1357.0,283.7" fill="none" stroke="#0000ff" stroke-width="6.8" stroke-dasharray="6 5"/></g>
<path d="M187.5,549.6 L187.5,549.6 189.5,549.4 191.5,549.3 193.5,549.2 195.5,549.1 197.5,549.1 199.5,549.1 201.5,549.2 203.5,549.3 205.5,549.4 207.5,549.5 209.5,549.7 211.5,549.9 213.5,550.1 215.5,550.4 217.5,550.7 219.5,551.0 221.5,551.4 223.5,551.8 225.5,552.2 227.5,552.6 229.5,553.0 231.5,553.5 233.5,554.0 235.5,554.5 237.5,555.0 239.5,555.6 241.5,556.1 243.5,556.7 245.5,557.3 247.5,558.0 249.5,558.6 251.5,559.2 253.5,559.9 255.5,560.6 257.5,561.3 259.5,562.0 261.5,562.7 263.5,563.4 265.5,564.1 267.5,564.8 269.5,565.6 271.5,566.3 273.5,567.1 275.5,567.8 277.5,568.6 279.5,569.4 281.5,570.1 283.5,570.9 285.5,571.7 287.5,572.4 289.5,573.2 291.5,574.0 293.5,574.7 295.5,575.5 297.5,576.3 299.5,577.0 301.5,577.7 303.5,578.5 305.5,579.2 307.5,579.9 309.5,580.7 311.5,581.4 313.5,582.0 315.5,582.7 317.5,583.4 319.5,584.1 321.5,584.7 323.5,585.3 325.5,585.9 327.5,586.5 329.5,587.1 331.5,587.7 333.5,588.2 335.5,588.7 337.5,589.2 339.5,589.7 341.5,590.2 343.5,590.6 345.5,591.0 347.5,591.4 349.5,591.8 351.5,592.2 353.5,592.5 355.5,592.8 357.5,593.1 359.5,593.3 361.5,593.6 363.5,593.8 365.5,594.0 367.5,594.1 369.5,594.3 371.5,594.4 373.5,594.5 375.5,594.5 377.5,594.6 379.5,594.6 381.5,594.6 383.5,594.5 385.5,594.5 387.5,594.4 389.5,594.2 391.5,594.1 393.5,593.9 395.5,593.7 397.5,593.5 399.5,593.2 401.5,593.0 403.5,592.6 405.5,592.3 407.5,591.9 409.5,591.5 411.5,591.1 413.5,590.6 415.5,590.2 417.5,589.6 419.5,589.1 421.5,588.5 423.5,587.9 425.5,587.3 427.5,586.6 429.5,585.9 431.5,585.2 433.5,584.4 435.5,583.7 437.5,582.9 439.5,582.0 441.5,581.2 443.5,580.3 445.5,579.5 447.5,578.5 449.5,577.6 451.5,576.7 453.5,575.7 455.5,574.7 457.5,573.8 459.5,572.7 461.5,571.7 463.5,570.7 465.5,569.6 467.5,568.6 469.5,567.5 471.5,566.4 473.5,565.4 475.5,564.3 477.5,563.2 479.5,562.1 481.5,560.9 483.5,559.8 485.5,558.7 487.5,557.6 489.5,556.5 491.5,555.3 493.5,554.2 495.5,553.0 497.5,551.9 499.5,550.7 501.5,549.6 503.5,548.4 505.5,547.3 507.5,546.1 509.5,544.9 511.5,543.8 513.5,542.6 515.5,541.4 517.5,540.2 519.5,539.1 521.5,537.9 523.5,536.7 525.5,535.6 527.5,534.4 529.5,533.3 531.5,532.1 533.5,531.0 535.5,529.9 537.5,528.8 539.5,527.7 541.5,526.6 543.5,525.5 545.5,524.5 547.5,523.4 549.5,522.4 551.5,521.5 553.5,520.5 555.5,519.5 557.5,518.6 559.5,517.7 561.5,516.9 563.5,516.0 565.5,515.2 567.5,514.4 569.5,513.7 571.5,512.9 573.5,512.2 575.5,511.5 577.5,510.9 579.5,510.2 581.5,509.6 583.5,509.1 585.5,508.5 587.5,508.0 589.5,507.5 591.5,507.1 593.5,506.6 595.5,506.2 597.5,505.8 599.5,505.5 601.5,505.2 603.5,504.9 605.5,504.7 607.5,504.4 609.5,504.3 611.5,504.1 613.5,504.0 615.5,503.9 617.5,503.8 619.5,503.8 621.5,503.8 623.5,503.9 625.5,503.9 627.5,504.0 629.5,504.2 631.5,504.3 633.5,504.5 635.5,504.8 637.5,505.0 639.5,505.3 641.5,505.6 643.5,506.0 645.5,506.3 647.5,506.7 649.5,507.1 651.5,507.6 653.5,508.0 655.5,508.5 657.5,509.0 659.5,509.5 661.5,510.1 663.5,510.6 665.5,511.2 667.5,511.8 669.5,512.4 671.5,513.0 673.5,513.7 675.5,514.3 677.5,515.0 679.5,515.7 681.5,516.4 683.5,517.1 685.5,517.8 687.5,518.5 689.5,519.2 691.5,519.9 693.5,520.7 695.5,521.4 697.5,522.2 699.5,522.9 701.5,523.7 703.5,524.4 705.5,525.2 707.5,525.9 709.5,526.7 711.5,527.5 713.5,528.2 715.5,529.0 717.5,529.7 719.5,530.5 721.5,531.2 723.5,532.0 725.5,532.7 727.5,533.4 729.5,534.1 731.5,534.8 733.5,535.5 735.5,536.2 737.5,536.9 739.5,537.5 741.5,538.2 743.5,538.8 745.5,539.4 747.5,540.0 749.5,540.5 751.5,541.1 753.5,541.6 755.5,542.1 757.5,542.6 759.5,543.1 761.5,543.6 763.5,544.0 765.5,544.4 767.5,544.8 769.5,545.2 771.5,545.6 773.5,545.9 775.5,546.3 777.5,546.6 779.5,546.9 781.5,547.2 783.5,547.5 785.5,547.7 787.5,548.0 789.5,548.2 791.5,548.4 793.5,548.6 795.5,548.7 797.5,548.9 799.5,549.0 801.5,549.1 803.5,549.2 805.5,549.2 807.5,549.3 809.5,549.3 811.5,549.2 813.5,549.2 815.5,549.1 817.5,549.0 819.5,548.9 821.5,548.7 823.5,548.5 825.5,548.3 827.5,548.1 829.5,547.8 831.5,547.5 833.5,547.2 835.5,546.8 837.5,546.4 839.5,546.0 841.5,545.6 843.5,545.1 845.5,544.6 847.5,544.1 849.5,543.5 851.5,542.9 853.5,542.3 855.5,541.7 857.5,541.1 859.5,540.5 861.5,539.8 863.5,539.1 865.5,538.4 867.5,537.7 869.5,537.0 871.5,536.3 873.5,535.6 875.5,534.8 877.5,534.1 879.5,533.3 881.5,532.6 883.5,531.8 885.5,531.0 887.5,530.3 889.5,529.5 891.5,528.8 893.5,528.0 895.5,527.3 897.5,526.5 899.5,525.8 901.5,525.0 903.5,524.3 905.5,523.6 907.5,522.9 909.5,522.2 911.5,521.5 913.5,520.8 915.5,520.1 917.5,519.4 919.5,518.8 921.5,518.1 923.5,517.5 925.5,516.8 927.5,516.2 929.5,515.6 931.5,515.0 933.5,514.4 935.5,513.8 937.5,513.3 939.5,512.7 941.5,512.2 943.5,511.7 945.5,511.2 947.5,510.7 949.5,510.2 951.5,509.8 953.5,509.3 955.5,508.9 957.5,508.5 959.5,508.1 961.5,507.7 963.5,507.3 965.5,507.0 967.5,506.7 969.5,506.4 971.5,506.1 973.5,505.8 975.5,505.6 977.5,505.3 979.5,505.1 981.5,504.9 983.5,504.8 985.5,504.6 987.5,504.5 989.5,504.4 991.5,504.3 993.5,504.3 995.5,504.3 997.5,504.3 999.5,504.3 1001.5,504.3 1003.5,504.4 1005.5,504.5 1007.5,504.6 1009.5,504.7 1011.5,504.9 1013.5,505.1 1015.5,505.3 1017.5,505.6 1019.5,505.9 1021.5,506.2 1023.5,506.5 1025.5,506.9 1027.5,507.3 1029.5,507.7 1031.5,508.1 1033.5,508.6 1035.5,509.1 1037.5,509.7 1039.5,510.3 1041.5,510.9 1043.5,511.5 1045.5,512.2 1047.5,512.9 1049.5,513.6 1051.5,514.4 1053.5,515.2 1055.5,516.0 1057.5,516.9 1059.5,517.7 1061.5,518.6 1063.5,519.6 1065.5,520.5 1067.5,521.5 1069.5,522.5 1071.5,523.5 1073.5,524.5 1075.5,525.5 1077.5,526.6 1079.5,527.7 1081.5,528.8 1083.5,529.9 1085.5,531.0 1087.5,532.1 1089.5,533.3 1091.5,534.4 1093.5,535.6 1095.5,536.8 1097.5,537.9 1099.5,539.1 1101.5,540.3 1103.5,541.5 1105.5,542.7 1107.5,543.9 1109.5,545.1 1111.5,546.3 1113.5,547.6 1115.5,548.8 1117.5,550.0 1119.5,551.2 1121.5,552.4 1123.5,553.6 1125.5,554.8 1127.5,556.0 1129.5,557.1 1131.5,558.3 1133.5,559.5 1135.5,560.6 1137.5,561.8 1139.5,562.9 1141.5,564.1 1143.5,565.2 1145.5,566.3 1147.5,567.4 1149.5,568.5 1151.5,569.5 1153.5,570.6 1155.5,571.6 1157.5,572.6 1159.5,573.6 1161.5,574.6 1163.5,575.6 1165.5,576.5 1167.5,577.5 1169.5,578.4 1171.5,579.3 1173.5,580.1 1175.5,581.0 1177.5,581.8 1179.5,582.6 1181.5,583.3 1183.5,584.1 1185.5,584.8 1187.5,585.5 1189.5,586.1 1191.5,586.7 1193.5,587.3 1195.5,587.9 1197.5,588.5 1199.5,589.0 1201.5,589.5 1203.5,590.0 1205.5,590.4 1207.5,590.8 1209.5,591.2 1211.5,591.5 1213.5,591.9 1215.5,592.2 1217.5,592.4 1219.5,592.7 1221.5,592.9 1223.5,593.1 1225.5,593.2 1227.5,593.4 1229.5,593.5 1231.5,593.5 1233.5,593.6 1235.5,593.6 1237.5,593.6 1239.5,593.6 1241.5,593.5 1243.5,593.4 1245.5,593.3 1247.5,593.1 1249.5,592.9 1251.5,592.7 1253.5,592.5 1255.5,592.2 1257.5,591.9 1259.5,591.6 1261.5,591.2 1263.5,590.8 1265.5,590.4 1267.5,590.0 1269.5,589.5 1271.5,589.0 1273.5,588.5 1275.5,587.9 1277.5,587.3 1279.5,586.7 1281.5,586.0 1283.5,585.4 1285.5,584.6 1287.5,583.9 1289.5,583.1 1291.5,582.3 1293.5,581.5 1295.5,580.7 1297.5,579.9 1299.5,579.0 1301.5,578.2 1303.5,577.3 1305.5,576.4 1307.5,575.5 1309.5,574.7 1311.5,573.8 1313.5,573.0 1315.5,572.1 1317.5,571.3 1319.5,570.5 1321.5,569.7 1323.5,568.9 1325.5,568.2 1327.5,567.4 1329.5,566.7 1331.5,566.1 1333.5,565.5 1335.5,564.9 1337.5,564.4 1339.5,563.9 1341.5,563.4 1343.5,563.0 1345.5,562.7 1347.5,562.4 1349.5,562.2 1351.5,562.0 1353.5,561.9 1355.5,561.9 1356.0,561.9" fill="none" stroke="#ff0000" stroke-width="6.6" stroke-linejoin="round"/><path d="M187.5,549.6 L187.5,549.6 189.5,549.6 191.5,549.6 193.5,549.5 195.5,549.4 197.5,549.3 199.5,549.1 201.5,548.8 203.5,548.6 205.5,548.2 207.5,547.9 209.5,547.5 211.5,547.1 213.5,546.6 215.5,546.1 217.5,545.5 219.5,545.0 221.5,544.3 223.5,543.7 225.5,543.0 227.5,542.3 229.5,541.5 231.5,540.7 233.5,539.8 235.5,539.0 237.5,538.0 239.5,537.1 241.5,536.1 243.5,535.1 245.5,534.1 247.5,533.0 249.5,531.9 251.5,530.7 253.5,529.5 255.5,528.3 257.5,527.1 259.5,525.8 261.5,524.5 263.5,523.2 265.5,521.8 267.5,520.4 269.5,519.0 271.5,517.5 273.5,516.1 275.5,514.6 277.5,513.1 279.5,511.6 281.5,510.0 283.5,508.5 285.5,506.9 287.5,505.3 289.5,503.7 291.5,502.2 293.5,500.6 295.5,499.0 297.5,497.3 299.5,495.7 301.5,494.1 303.5,492.5 305.5,490.9 307.5,489.3 309.5,487.8 311.5,486.2 313.5,484.6 315.5,483.1 317.5,481.5 319.5,480.0 321.5,478.5 323.5,477.0 325.5,475.5 327.5,474.1 329.5,472.7 331.5,471.3 333.5,469.9 335.5,468.6 337.5,467.3 339.5,466.0 341.5,464.8 343.5,463.6 345.5,462.4 347.5,461.3 349.5,460.3 351.5,459.2 353.5,458.2 355.5,457.3 357.5,456.4 359.5,455.6 361.5,454.8 363.5,454.1 365.5,453.4 367.5,452.8 369.5,452.3 371.5,451.8 373.5,451.3 375.5,451.0 377.5,450.7 379.5,450.4 381.5,450.3 383.5,450.2 385.5,450.1 387.5,450.2 389.5,450.3 391.5,450.5 393.5,450.8 395.5,451.1 397.5,451.6 399.5,452.1 401.5,452.7 403.5,453.4 405.5,454.1 407.5,455.0 409.5,455.9 411.5,456.9 413.5,458.0 415.5,459.1 417.5,460.3 419.5,461.6 421.5,462.9 423.5,464.3 425.5,465.8 427.5,467.3 429.5,468.9 431.5,470.5 433.5,472.2 435.5,474.0 437.5,475.8 439.5,477.6 441.5,479.5 443.5,481.5 445.5,483.4 447.5,485.5 449.5,487.5 451.5,489.6 453.5,491.8 455.5,493.9 457.5,496.1 459.5,498.4 461.5,500.6 463.5,502.9 465.5,505.2 467.5,507.6 469.5,509.9 471.5,512.3 473.5,514.7 475.5,517.1 477.5,519.6 479.5,522.0 481.5,524.5 483.5,526.9 485.5,529.4 487.5,531.9 489.5,534.4 491.5,536.9 493.5,539.4 495.5,541.8 497.5,544.3 499.5,546.8 501.5,549.3 503.5,551.8 505.5,554.2 507.5,556.7 509.5,559.1 511.5,561.5 513.5,563.9 515.5,566.3 517.5,568.7 519.5,571.0 521.5,573.4 523.5,575.7 525.5,577.9 527.5,580.2 529.5,582.4 531.5,584.6 533.5,586.8 535.5,588.9 537.5,591.0 539.5,593.1 541.5,595.1 543.5,597.2 545.5,599.2 547.5,601.2 549.5,603.2 551.5,605.2 553.5,607.1 555.5,609.1 557.5,611.0 559.5,613.0 561.5,614.9 563.5,616.8 565.5,618.7 567.5,620.5 569.5,622.4 571.5,624.2 573.5,625.9 575.5,627.7 577.5,629.3 579.5,630.9 581.5,632.5 583.5,634.0 585.5,635.4 587.5,636.8 589.5,638.1 591.5,639.3 593.5,640.4 595.5,641.5 597.5,642.4 599.5,643.3 601.5,644.1 603.5,644.8 605.5,645.4 607.5,646.0 609.5,646.5 611.5,646.9 613.5,647.2 615.5,647.5 617.5,647.6 619.5,647.8 621.5,647.8 623.5,647.8 625.5,647.7 627.5,647.5 629.5,647.3 631.5,647.0 633.5,646.7 635.5,646.2 637.5,645.8 639.5,645.2 641.5,644.6 643.5,644.0 645.5,643.3 647.5,642.5 649.5,641.7 651.5,640.8 653.5,639.9 655.5,638.9 657.5,637.9 659.5,636.8 661.5,635.7 663.5,634.5 665.5,633.3 667.5,632.1 669.5,630.8 671.5,629.5 673.5,628.2 675.5,626.8 677.5,625.4 679.5,623.9 681.5,622.5 683.5,621.0 685.5,619.5 687.5,617.9 689.5,616.4 691.5,614.8 693.5,613.2 695.5,611.6 697.5,610.0 699.5,608.4 701.5,606.7 703.5,605.1 705.5,603.4 707.5,601.8 709.5,600.1 711.5,598.4 713.5,596.8 715.5,595.1 717.5,593.4 719.5,591.8 721.5,590.1 723.5,588.5 725.5,586.9 727.5,585.2 729.5,583.6 731.5,582.0 733.5,580.5 735.5,578.9 737.5,577.4 739.5,575.9 741.5,574.4 743.5,572.9 745.5,571.5 747.5,570.1 749.5,568.7 751.5,567.4 753.5,566.0 755.5,564.8 757.5,563.5 759.5,562.3 761.5,561.2 763.5,560.1 765.5,559.0 767.5,558.0 769.5,557.0 771.5,556.0 773.5,555.2 775.5,554.3 777.5,553.6 779.5,552.8 781.5,552.2 783.5,551.6 785.5,551.0 787.5,550.5 789.5,550.1 791.5,549.7 793.5,549.4 795.5,549.1 797.5,548.9 799.5,548.7 801.5,548.6 803.5,548.5 805.5,548.5 807.5,548.5 809.5,548.6 811.5,548.7 813.5,548.9 815.5,549.1 817.5,549.3 819.5,549.6 821.5,550.0 823.5,550.4 825.5,550.8 827.5,551.3 829.5,551.8 831.5,552.4 833.5,553.0 835.5,553.6 837.5,554.3 839.5,555.1 841.5,555.8 843.5,556.6 845.5,557.5 847.5,558.3 849.5,559.3 851.5,560.2 853.5,561.2 855.5,562.2 857.5,563.3 859.5,564.3 861.5,565.5 863.5,566.6 865.5,567.8 867.5,569.0 869.5,570.2 871.5,571.5 873.5,572.8 875.5,574.1 877.5,575.4 879.5,576.8 881.5,578.2 883.5,579.6 885.5,581.0 887.5,582.4 889.5,583.9 891.5,585.4 893.5,586.9 895.5,588.4 897.5,589.9 899.5,591.4 901.5,593.0 903.5,594.6 905.5,596.1 907.5,597.7 909.5,599.3 911.5,600.9 913.5,602.5 915.5,604.1 917.5,605.8 919.5,607.4 921.5,609.0 923.5,610.6 925.5,612.2 927.5,613.7 929.5,615.3 931.5,616.9 933.5,618.4 935.5,619.9 937.5,621.4 939.5,622.9 941.5,624.3 943.5,625.8 945.5,627.2 947.5,628.5 949.5,629.8 951.5,631.1 953.5,632.4 955.5,633.6 957.5,634.8 959.5,635.9 961.5,637.0 963.5,638.1 965.5,639.1 967.5,640.0 969.5,640.9 971.5,641.7 973.5,642.5 975.5,643.2 977.5,643.9 979.5,644.5 981.5,645.1 983.5,645.5 985.5,646.0 987.5,646.4 989.5,646.7 991.5,646.9 993.5,647.1 995.5,647.2 997.5,647.3 999.5,647.3 1001.5,647.2 1003.5,647.1 1005.5,646.9 1007.5,646.7 1009.5,646.3 1011.5,645.9 1013.5,645.5 1015.5,644.9 1017.5,644.3 1019.5,643.7 1021.5,642.9 1023.5,642.1 1025.5,641.2 1027.5,640.2 1029.5,639.2 1031.5,638.1 1033.5,636.9 1035.5,635.6 1037.5,634.3 1039.5,632.9 1041.5,631.4 1043.5,629.8 1045.5,628.2 1047.5,626.5 1049.5,624.7 1051.5,622.9 1053.5,621.0 1055.5,619.1 1057.5,617.1 1059.5,615.0 1061.5,612.9 1063.5,610.8 1065.5,608.6 1067.5,606.4 1069.5,604.2 1071.5,601.9 1073.5,599.6 1075.5,597.3 1077.5,594.9 1079.5,592.6 1081.5,590.2 1083.5,587.8 1085.5,585.4 1087.5,583.0 1089.5,580.6 1091.5,578.2 1093.5,575.8 1095.5,573.4 1097.5,571.0 1099.5,568.7 1101.5,566.3 1103.5,563.9 1105.5,561.5 1107.5,559.1 1109.5,556.8 1111.5,554.4 1113.5,552.1 1115.5,549.7 1117.5,547.4 1119.5,545.0 1121.5,542.7 1123.5,540.3 1125.5,538.0 1127.5,535.7 1129.5,533.4 1131.5,531.1 1133.5,528.8 1135.5,526.5 1137.5,524.2 1139.5,521.9 1141.5,519.6 1143.5,517.3 1145.5,515.1 1147.5,512.9 1149.5,510.6 1151.5,508.4 1153.5,506.3 1155.5,504.1 1157.5,502.0 1159.5,499.9 1161.5,497.8 1163.5,495.7 1165.5,493.7 1167.5,491.6 1169.5,489.7 1171.5,487.7 1173.5,485.8 1175.5,483.9 1177.5,482.1 1179.5,480.2 1181.5,478.5 1183.5,476.7 1185.5,475.0 1187.5,473.4 1189.5,471.8 1191.5,470.2 1193.5,468.7 1195.5,467.2 1197.5,465.8 1199.5,464.5 1201.5,463.1 1203.5,461.9 1205.5,460.7 1207.5,459.5 1209.5,458.4 1211.5,457.4 1213.5,456.4 1215.5,455.5 1217.5,454.6 1219.5,453.9 1221.5,453.1 1223.5,452.5 1225.5,451.9 1227.5,451.4 1229.5,450.9 1231.5,450.6 1233.5,450.3 1235.5,450.1 1237.5,449.9 1239.5,449.9 1241.5,449.9 1243.5,450.0 1245.5,450.1 1247.5,450.4 1249.5,450.7 1251.5,451.1 1253.5,451.6 1255.5,452.2 1257.5,452.8 1259.5,453.5 1261.5,454.3 1263.5,455.1 1265.5,456.0 1267.5,456.9 1269.5,457.9 1271.5,458.9 1273.5,460.0 1275.5,461.2 1277.5,462.4 1279.5,463.6 1281.5,464.9 1283.5,466.2 1285.5,467.6 1287.5,469.0 1289.5,470.4 1291.5,471.9 1293.5,473.4 1295.5,474.9 1297.5,476.5 1299.5,478.1 1301.5,479.7 1303.5,481.3 1305.5,482.9 1307.5,484.6 1309.5,486.2 1311.5,487.9 1313.5,489.6 1315.5,491.3 1317.5,493.0 1319.5,494.7 1321.5,496.4 1323.5,498.1 1325.5,499.8 1327.5,501.5 1329.5,503.1 1331.5,504.8 1333.5,506.5 1335.5,508.1 1337.5,509.7 1339.5,511.3 1341.5,512.9 1343.5,514.4 1345.5,516.0 1347.5,517.5 1349.5,518.9 1351.5,520.4 1353.5,521.8 1355.0,522.8" fill="none" stroke="#0000ff" stroke-width="6.8" stroke-dasharray="6 5"/>
<clipPath id="c3"><rect x="180" y="769" width="1185" height="242"/></clipPath>
<g clip-path="url(#c3)"><path d="M187.50,850.30 C187.90,847.20 188.38,844.66 188.70,841.00 C189.16,835.79 189.22,828.33 189.60,822.00 C189.98,815.66 190.58,808.87 191.00,803.00 C191.37,797.92 191.37,793.07 192.00,788.80 C192.53,785.21 193.10,781.78 194.20,779.00 C195.11,776.70 196.74,773.06 197.70,773.10 C198.46,773.13 199.12,775.26 199.60,777.00 C200.43,780.01 200.39,784.70 200.70,790.00 C201.18,798.30 201.21,812.72 201.70,822.00 C202.08,829.16 202.63,834.67 203.10,841.00 C203.57,847.33 204.06,854.12 204.50,860.00 C204.88,865.11 205.16,868.84 205.60,874.30 C206.19,881.62 207.17,892.04 207.80,900.00 C208.34,906.89 208.72,912.26 209.20,919.30 C209.78,927.81 210.34,939.99 211.00,947.50 C211.44,952.51 211.90,959.99 212.40,960.00 C212.87,960.01 213.34,953.24 213.90,949.00 C214.66,943.20 215.62,936.24 216.50,928.40 C217.67,918.01 219.02,903.83 220.10,892.10 C221.11,881.08 221.99,868.54 222.80,860.00 C223.34,854.31 223.82,850.54 224.30,845.80 C224.78,841.04 225.33,836.20 225.70,831.50 C226.06,826.94 226.07,821.59 226.50,818.00 C226.79,815.59 227.11,812.03 227.60,812.00 C228.10,811.97 228.84,815.58 229.50,818.00 C230.48,821.58 231.47,826.94 232.60,831.50 C233.77,836.21 235.21,841.03 236.40,845.80 C237.58,850.53 238.57,855.82 239.70,860.00 C240.61,863.36 241.23,867.80 242.50,869.00 C243.09,869.56 243.71,869.67 244.50,869.50 C246.01,869.17 248.62,866.49 250.40,864.80 C252.11,863.18 253.22,860.53 255.00,859.60 C256.55,858.79 258.58,859.42 260.20,859.00 C261.73,858.60 263.26,858.20 264.50,857.20 C265.92,856.06 266.83,853.90 268.00,852.25 L268.0,852.2 270.0,849.9 272.0,847.3 274.0,844.7 276.0,842.0 278.0,839.2 280.0,836.4 282.0,833.7 284.0,831.0 286.0,828.4 288.0,825.8 290.0,823.4 292.0,821.0 294.0,818.8 296.0,816.8 298.0,814.9 300.0,813.1 302.0,811.6 304.0,810.3 306.0,809.2 308.0,808.3 310.0,807.7 312.0,807.4 314.0,807.3 316.0,807.5 318.0,808.0 320.0,808.7 322.0,809.7 324.0,810.9 326.0,812.2 328.0,813.8 330.0,815.5 332.0,817.4 334.0,819.5 336.0,821.7 338.0,824.0 340.0,826.4 342.0,828.8 344.0,831.4 346.0,834.0 348.0,836.7 350.0,839.4 352.0,842.1 354.0,844.9 356.0,847.7 358.0,850.5 360.0,853.4 362.0,856.2 364.0,859.0 366.0,861.8 368.0,864.6 370.0,867.2 372.0,869.7 374.0,871.9 376.0,874.0 378.0,875.8 380.0,877.4 382.0,878.6 384.0,879.6 386.0,880.3 388.0,880.8 390.0,881.0 392.0,881.0 394.0,880.7 396.0,880.3 398.0,879.6 400.0,878.8 402.0,877.8 404.0,876.6 406.0,875.3 408.0,873.8 410.0,872.2 412.0,870.4 414.0,868.6 416.0,866.6 418.0,864.6 420.0,862.4 422.0,860.3 424.0,858.1 426.0,855.8 428.0,853.6 430.0,851.4 432.0,849.2 434.0,847.0 436.0,844.9 438.0,842.9 440.0,841.0 442.0,839.2 444.0,837.5 446.0,836.0 448.0,834.6 450.0,833.4 452.0,832.3 454.0,831.4 456.0,830.7 458.0,830.2 460.0,829.8 462.0,829.5 464.0,829.5 466.0,829.5 468.0,829.7 470.0,830.1 472.0,830.6 474.0,831.3 476.0,832.1 478.0,833.0 480.0,834.0 482.0,835.2 484.0,836.5 486.0,838.0 488.0,839.5 490.0,841.2 492.0,843.0 494.0,844.8 496.0,846.7 498.0,848.6 500.0,850.5 502.0,852.5 504.0,854.4 506.0,856.3 508.0,858.1 510.0,859.9 512.0,861.6 514.0,863.2 516.0,864.7 518.0,866.0 520.0,867.2 522.0,868.2 524.0,869.1 526.0,869.8 528.0,870.3 530.0,870.7 532.0,871.0 534.0,871.1 536.0,871.0 538.0,870.8 540.0,870.4 542.0,870.0 544.0,869.3 546.0,868.6 548.0,867.7 550.0,866.6 552.0,865.5 554.0,864.2 556.0,862.8 558.0,861.2 560.0,859.6 562.0,857.8 564.0,856.0 566.0,854.1 568.0,852.1 570.0,850.0 572.0,847.9 574.0,845.7 576.0,843.5 578.0,841.2 580.0,839.1 582.0,837.0 584.0,834.9 586.0,833.0 588.0,831.2 590.0,829.6 592.0,828.2 594.0,827.0 596.0,825.9 598.0,825.0 600.0,824.3 602.0,823.7 604.0,823.4 606.0,823.2 608.0,823.2 610.0,823.3 612.0,823.7 614.0,824.2 616.0,824.8 618.0,825.7 620.0,826.7 622.0,827.9 624.0,829.2 626.0,830.6 628.0,832.2 630.0,834.0 632.0,835.8 634.0,837.7 636.0,839.8 638.0,841.9 640.0,844.1 642.0,846.4 644.0,848.8 646.0,851.2 648.0,853.6 650.0,856.1 652.0,858.6 654.0,861.2 656.0,863.7 658.0,866.2 660.0,868.8 662.0,871.2 664.0,873.6 666.0,876.0 668.0,878.2 670.0,880.3 672.0,882.3 674.0,884.1 676.0,885.8 678.0,887.3 680.0,888.6 682.0,889.6 684.0,890.5 686.0,891.0 688.0,891.3 690.0,891.3 692.0,891.0 694.0,890.4 696.0,889.6 698.0,888.5 700.0,887.2 702.0,885.6 704.0,883.9 706.0,882.0 708.0,879.9 710.0,877.6 712.0,875.3 714.0,872.8 716.0,870.2 718.0,867.6 720.0,864.9 722.0,862.1 724.0,859.2 726.0,856.3 728.0,853.4 730.0,850.4 732.0,847.3 734.0,844.3 736.0,841.3 738.0,838.3 740.0,835.3 742.0,832.5 744.0,829.7 746.0,827.0 748.0,824.5 750.0,822.1 752.0,819.9 754.0,817.8 756.0,815.9 758.0,814.3 760.0,812.9 762.0,811.8 764.0,810.9 766.0,810.3 768.0,810.0 770.0,809.9 772.0,810.0 774.0,810.5 776.0,811.1 778.0,812.0 780.0,813.0 782.0,814.3 784.0,815.8 786.0,817.5 788.0,819.3 790.0,821.4 792.0,823.6 794.0,825.9 796.0,828.4 798.0,831.1 800.0,833.8 802.0,836.7 804.0,839.7 806.0,842.8 808.0,846.0 810.0,849.2 812.0,852.5 814.0,855.8 816.0,859.1 818.0,862.5 820.0,865.9 822.0,869.2 824.0,872.6 826.0,875.9 828.0,879.1 830.0,882.2 832.0,885.2 834.0,887.9 836.0,890.4 838.0,892.7 840.0,894.6 842.0,896.1 844.0,897.3 846.0,898.2 848.0,898.7 850.0,898.9 852.0,898.9 854.0,898.6 856.0,898.0 858.0,897.1 860.0,896.0 862.0,894.7 864.0,893.2 866.0,891.5 868.0,889.6 870.0,887.6 872.0,885.4 874.0,883.0 876.0,880.6 878.0,878.0 880.0,875.3 882.0,872.5 884.0,869.7 886.0,866.8 888.0,863.9 890.0,860.9 892.0,858.0 894.0,855.0 896.0,852.1 898.0,849.2 900.0,846.4 902.0,843.6 904.0,840.9 906.0,838.3 908.0,835.9 910.0,833.5 912.0,831.3 914.0,829.3 916.0,827.4 918.0,825.8 920.0,824.3 922.0,823.0 924.0,822.0 926.0,821.1 928.0,820.4 930.0,819.9 932.0,819.5 934.0,819.4 936.0,819.4 938.0,819.6 940.0,820.0 942.0,820.5 944.0,821.2 946.0,822.0 948.0,823.1 950.0,824.2 952.0,825.5 954.0,827.0 956.0,828.6 958.0,830.4 960.0,832.2 962.0,834.2 964.0,836.2 966.0,838.3 968.0,840.5 970.0,842.8 972.0,845.0 974.0,847.3 976.0,849.7 978.0,852.0 980.0,854.3 982.0,856.6 984.0,858.8 986.0,861.0 988.0,863.1 990.0,865.1 992.0,867.1 994.0,868.9 996.0,870.5 998.0,872.0 1000.0,873.2 1002.0,874.3 1004.0,875.0 1006.0,875.5 1008.0,875.8 1010.0,875.8 1012.0,875.6 1014.0,875.2 1016.0,874.7 1018.0,874.0 1020.0,873.1 1022.0,872.2 1024.0,871.2 1026.0,870.1 1028.0,868.9 1030.0,867.6 1032.0,866.3 1034.0,864.9 1036.0,863.5 1038.0,862.0 1040.0,860.6 1042.0,859.1 1044.0,857.6 1046.0,856.1 1048.0,854.6 1050.0,853.1 1052.0,851.6 1054.0,850.2 1056.0,848.9 1058.0,847.5 1060.0,846.3 1062.0,845.1 1064.0,844.0 1066.0,843.0 1068.0,842.1 1070.0,841.3 1072.0,840.6 1074.0,840.0 1076.0,839.5 1078.0,839.2 1080.0,839.1 1082.0,839.1 1084.0,839.2 1086.0,839.6 1088.0,840.1 1090.0,840.7 1092.0,841.4 1094.0,842.3 1096.0,843.3 1098.0,844.4 1100.0,845.5 1102.0,846.7 1104.0,848.0 1106.0,849.2 1108.0,850.5 1110.0,851.9 1112.0,853.2 1114.0,854.4 1116.0,855.7 1118.0,856.9 1120.0,858.0 1122.0,859.1 1124.0,860.1 1126.0,861.0 1128.0,861.9 1130.0,862.6 1132.0,863.3 1134.0,863.8 1136.0,864.3 1138.0,864.6 1140.0,864.9 1142.0,865.0 1144.0,865.0 1146.0,864.8 1148.0,864.5 1150.0,864.1 1152.0,863.6 1154.0,862.8 1156.0,862.0 1158.0,861.0 1160.0,859.9 1162.0,858.7 1164.0,857.4 1166.0,856.0 1168.0,854.6 1170.0,853.0 1172.0,851.4 1174.0,849.8 1176.0,848.1 1178.0,846.5 1180.0,844.8 1182.0,843.1 1184.0,841.4 1186.0,839.7 1188.0,838.1 1190.0,836.5 1192.0,835.0 1194.0,833.5 1196.0,832.1 1198.0,830.8 1200.0,829.5 1202.0,828.4 1204.0,827.4 1206.0,826.5 1208.0,825.7 1210.0,825.1 1212.0,824.6 1214.0,824.3 1216.0,824.2 1218.0,824.3 1220.0,824.5 1222.0,824.9 1224.0,825.6 1226.0,826.4 1228.0,827.4 1230.0,828.5 1232.0,829.8 1234.0,831.3 1236.0,832.8 1238.0,834.5 1240.0,836.4 1242.0,838.3 1244.0,840.3 1246.0,842.5 1248.0,844.7 1250.0,847.0 1252.0,849.3 1254.0,851.7 1256.0,854.2 1258.0,856.7 1260.0,859.2 1262.0,861.7 1264.0,864.2 1266.0,866.6 1268.0,869.0 1270.0,871.3 1272.0,873.5 1274.0,875.6 1276.0,877.6 1278.0,879.4 1280.0,881.1 1282.0,882.6 1284.0,883.9 1286.0,884.9 1288.0,885.8 1290.0,886.4 1292.0,886.7 1294.0,886.8 1296.0,886.7 1298.0,886.3 1300.0,885.8 1302.0,885.0 1304.0,883.9 1306.0,882.7 1308.0,881.3 1310.0,879.7 1312.0,877.8 1314.0,875.8 1316.0,873.6 1318.0,871.2 1320.0,868.6 1322.0,865.9 1324.0,862.9 1326.0,859.9 1328.0,856.7 1330.0,853.4 1332.0,850.1 1334.0,846.7 1336.0,843.3 1338.0,839.9 1340.0,836.6 1342.0,833.3 1344.0,830.1 1346.0,827.0 1348.0,824.1 1350.0,821.3 1352.0,818.7 1354.0,816.3 1355.6,814.6" fill="none" stroke="#ff0000" stroke-width="6.6" stroke-linejoin="round"/><path d="M187.50,850.30 C187.80,849.40 188.11,848.84 188.40,847.60 C189.00,845.07 189.56,839.57 190.10,835.80 C190.59,832.33 190.78,829.06 191.50,825.80 C192.22,822.56 193.11,818.60 194.40,816.30 C195.28,814.72 196.65,812.59 197.50,812.80 C198.82,813.13 199.43,820.24 200.10,823.90 C200.75,827.43 201.03,830.91 201.50,834.40 C201.97,837.88 202.51,841.24 202.90,844.80 C203.31,848.53 203.49,852.57 203.90,856.30 C204.29,859.86 204.70,863.34 205.30,866.70 C205.88,869.90 206.81,872.66 207.40,876.00 C208.08,879.84 208.29,884.69 209.00,888.50 C209.61,891.76 210.09,894.42 211.20,897.50 C212.47,901.03 214.30,905.60 216.50,908.40 C218.31,910.70 221.05,913.61 222.80,913.60 C224.05,913.60 224.93,911.81 226.00,910.92 L226.0,910.9 228.0,907.1 230.0,902.4 232.0,897.2 234.0,891.9 236.0,886.8 238.0,882.3 240.0,878.7 242.0,875.6 244.0,873.0 246.0,870.6 248.0,868.4 250.0,866.1 252.0,863.7 254.0,861.2 256.0,858.7 258.0,856.1 260.0,853.4 262.0,850.6 264.0,847.9 266.0,845.1 268.0,842.3 270.0,839.5 272.0,836.7 274.0,834.0 276.0,831.3 278.0,828.7 280.0,826.1 282.0,823.6 284.0,821.2 286.0,818.9 288.0,816.7 290.0,814.6 292.0,812.7 294.0,810.8 296.0,809.2 298.0,807.6 300.0,806.3 302.0,805.1 304.0,804.1 306.0,803.3 308.0,802.6 310.0,802.2 312.0,802.0 314.0,802.0 316.0,802.2 318.0,802.7 320.0,803.4 322.0,804.4 324.0,805.7 326.0,807.2 328.0,809.0 330.0,811.0 332.0,813.3 334.0,815.7 336.0,818.4 338.0,821.2 340.0,824.1 342.0,827.2 344.0,830.3 346.0,833.5 348.0,836.8 350.0,840.0 352.0,843.3 354.0,846.6 356.0,849.8 358.0,853.0 360.0,856.0 362.0,859.0 364.0,862.0 366.0,864.8 368.0,867.4 370.0,870.0 372.0,872.5 374.0,874.8 376.0,876.9 378.0,878.9 380.0,880.7 382.0,882.4 384.0,883.9 386.0,885.1 388.0,886.2 390.0,887.1 392.0,887.7 394.0,888.1 396.0,888.3 398.0,888.3 400.0,888.0 402.0,887.5 404.0,886.8 406.0,885.9 408.0,884.8 410.0,883.5 412.0,882.1 414.0,880.5 416.0,878.7 418.0,876.8 420.0,874.8 422.0,872.6 424.0,870.4 426.0,868.0 428.0,865.5 430.0,863.0 432.0,860.4 434.0,857.7 436.0,854.9 438.0,852.1 440.0,849.3 442.0,846.5 444.0,843.7 446.0,841.0 448.0,838.3 450.0,835.7 452.0,833.3 454.0,831.0 456.0,828.8 458.0,826.9 460.0,825.1 462.0,823.6 464.0,822.3 466.0,821.3 468.0,820.6 470.0,820.2 472.0,820.2 474.0,820.5 476.0,821.2 478.0,822.2 480.0,823.6 482.0,825.2 484.0,827.1 486.0,829.2 488.0,831.5 490.0,833.9 492.0,836.5 494.0,839.2 496.0,841.9 498.0,844.7 500.0,847.5 502.0,850.3 504.0,853.1 506.0,855.8 508.0,858.3 510.0,860.8 512.0,863.0 514.0,865.2 516.0,867.1 518.0,868.9 520.0,870.5 522.0,871.9 524.0,873.2 526.0,874.3 528.0,875.2 530.0,875.9 532.0,876.5 534.0,876.8 536.0,877.0 538.0,877.0 540.0,876.8 542.0,876.4 544.0,875.7 546.0,874.9 548.0,873.9 550.0,872.7 552.0,871.3 554.0,869.6 556.0,867.8 558.0,865.7 560.0,863.5 562.0,861.1 564.0,858.6 566.0,856.0 568.0,853.3 570.0,850.6 572.0,847.9 574.0,845.1 576.0,842.4 578.0,839.7 580.0,837.1 582.0,834.6 584.0,832.2 586.0,830.0 588.0,827.9 590.0,826.0 592.0,824.3 594.0,822.9 596.0,821.6 598.0,820.6 600.0,819.7 602.0,819.1 604.0,818.7 606.0,818.4 608.0,818.4 610.0,818.6 612.0,819.0 614.0,819.6 616.0,820.4 618.0,821.4 620.0,822.5 622.0,823.9 624.0,825.5 626.0,827.3 628.0,829.3 630.0,831.5 632.0,833.9 634.0,836.5 636.0,839.3 638.0,842.2 640.0,845.3 642.0,848.5 644.0,851.7 646.0,855.0 648.0,858.4 650.0,861.7 652.0,865.1 654.0,868.3 656.0,871.5 658.0,874.6 660.0,877.5 662.0,880.3 664.0,882.8 666.0,885.2 668.0,887.4 670.0,889.3 672.0,891.0 674.0,892.5 676.0,893.8 678.0,894.8 680.0,895.6 682.0,896.2 684.0,896.6 686.0,896.8 688.0,896.7 690.0,896.3 692.0,895.8 694.0,895.0 696.0,893.9 698.0,892.7 700.0,891.1 702.0,889.4 704.0,887.4 706.0,885.1 708.0,882.6 710.0,879.9 712.0,876.9 714.0,873.8 716.0,870.5 718.0,867.0 720.0,863.5 722.0,859.8 724.0,856.1 726.0,852.4 728.0,848.6 730.0,844.8 732.0,841.1 734.0,837.4 736.0,833.8 738.0,830.3 740.0,826.9 742.0,823.7 744.0,820.7 746.0,817.9 748.0,815.4 750.0,813.1 752.0,811.1 754.0,809.4 756.0,808.1 758.0,807.0 760.0,806.3 762.0,805.9 764.0,805.8 766.0,805.9 768.0,806.4 770.0,807.1 772.0,808.1 774.0,809.3 776.0,810.8 778.0,812.5 780.0,814.5 782.0,816.6 784.0,819.0 786.0,821.6 788.0,824.3 790.0,827.2 792.0,830.2 794.0,833.4 796.0,836.6 798.0,840.0 800.0,843.4 802.0,846.9 804.0,850.4 806.0,853.9 808.0,857.5 810.0,861.0 812.0,864.5 814.0,867.9 816.0,871.3 818.0,874.6 820.0,877.9 822.0,881.0 824.0,883.9 826.0,886.8 828.0,889.4 830.0,891.9 832.0,894.2 834.0,896.3 836.0,898.2 838.0,899.8 840.0,901.2 842.0,902.3 844.0,903.0 846.0,903.6 848.0,903.8 850.0,903.7 852.0,903.4 854.0,902.8 856.0,902.0 858.0,900.9 860.0,899.5 862.0,898.0 864.0,896.2 866.0,894.2 868.0,892.1 870.0,889.7 872.0,887.1 874.0,884.4 876.0,881.4 878.0,878.4 880.0,875.1 882.0,871.7 884.0,868.2 886.0,864.6 888.0,860.9 890.0,857.2 892.0,853.4 894.0,849.7 896.0,846.1 898.0,842.5 900.0,839.1 902.0,835.8 904.0,832.7 906.0,829.9 908.0,827.2 910.0,824.9 912.0,822.9 914.0,821.2 916.0,819.8 918.0,818.7 920.0,817.8 922.0,817.2 924.0,816.9 926.0,816.8 928.0,816.9 930.0,817.2 932.0,817.7 934.0,818.5 936.0,819.4 938.0,820.4 940.0,821.7 942.0,823.0 944.0,824.5 946.0,826.2 948.0,827.9 950.0,829.7 952.0,831.7 954.0,833.7 956.0,835.7 958.0,837.9 960.0,840.0 962.0,842.2 964.0,844.4 966.0,846.7 968.0,848.9 970.0,851.1 972.0,853.4 974.0,855.6 976.0,857.7 978.0,859.8 980.0,861.9 982.0,863.9 984.0,865.9 986.0,867.7 988.0,869.5 990.0,871.1 992.0,872.7 994.0,874.1 996.0,875.4 998.0,876.6 1000.0,877.6 1002.0,878.5 1004.0,879.3 1006.0,879.9 1008.0,880.3 1010.0,880.6 1012.0,880.7 1014.0,880.7 1016.0,880.5 1018.0,880.1 1020.0,879.5 1022.0,878.8 1024.0,877.8 1026.0,876.7 1028.0,875.4 1030.0,873.9 1032.0,872.3 1034.0,870.5 1036.0,868.7 1038.0,866.7 1040.0,864.6 1042.0,862.4 1044.0,860.2 1046.0,857.9 1048.0,855.7 1050.0,853.4 1052.0,851.1 1054.0,848.9 1056.0,846.8 1058.0,844.8 1060.0,842.9 1062.0,841.2 1064.0,839.6 1066.0,838.1 1068.0,836.9 1070.0,835.8 1072.0,834.9 1074.0,834.1 1076.0,833.6 1078.0,833.3 1080.0,833.1 1082.0,833.1 1084.0,833.4 1086.0,833.8 1088.0,834.4 1090.0,835.1 1092.0,836.0 1094.0,837.1 1096.0,838.2 1098.0,839.5 1100.0,840.9 1102.0,842.3 1104.0,843.9 1106.0,845.5 1108.0,847.1 1110.0,848.7 1112.0,850.4 1114.0,852.1 1116.0,853.8 1118.0,855.4 1120.0,857.0 1122.0,858.6 1124.0,860.0 1126.0,861.4 1128.0,862.7 1130.0,863.9 1132.0,865.0 1134.0,866.0 1136.0,866.8 1138.0,867.6 1140.0,868.2 1142.0,868.7 1144.0,869.1 1146.0,869.4 1148.0,869.5 1150.0,869.5 1152.0,869.4 1154.0,869.2 1156.0,868.9 1158.0,868.4 1160.0,867.8 1162.0,867.1 1164.0,866.2 1166.0,865.2 1168.0,864.1 1170.0,862.9 1172.0,861.5 1174.0,859.9 1176.0,858.2 1178.0,856.4 1180.0,854.5 1182.0,852.5 1184.0,850.3 1186.0,848.1 1188.0,845.9 1190.0,843.7 1192.0,841.4 1194.0,839.1 1196.0,836.9 1198.0,834.8 1200.0,832.7 1202.0,830.7 1204.0,828.8 1206.0,827.1 1208.0,825.5 1210.0,824.1 1212.0,822.9 1214.0,821.9 1216.0,821.1 1218.0,820.6 1220.0,820.3 1222.0,820.3 1224.0,820.5 1226.0,820.9 1228.0,821.5 1230.0,822.3 1232.0,823.4 1234.0,824.6 1236.0,826.0 1238.0,827.5 1240.0,829.3 1242.0,831.2 1244.0,833.2 1246.0,835.4 1248.0,837.7 1250.0,840.2 1252.0,842.7 1254.0,845.4 1256.0,848.2 1258.0,851.1 1260.0,854.0 1262.0,857.0 1264.0,860.0 1266.0,863.1 1268.0,866.1 1270.0,869.1 1272.0,872.0 1274.0,874.8 1276.0,877.6 1278.0,880.2 1280.0,882.6 1282.0,884.8 1284.0,886.9 1286.0,888.7 1288.0,890.3 1290.0,891.5 1292.0,892.5 1294.0,893.2 1296.0,893.6 1298.0,893.7 1300.0,893.5 1302.0,893.0 1304.0,892.2 1306.0,891.3 1308.0,890.0 1310.0,888.5 1312.0,886.8 1314.0,884.9 1316.0,882.8 1318.0,880.5 1320.0,878.0 1322.0,875.3 1324.0,872.4 1326.0,869.4 1328.0,866.2 1330.0,862.8 1332.0,859.4 1334.0,855.8 1336.0,852.1 1338.0,848.3 1340.0,844.4 1342.0,840.4 1344.0,836.3 1346.0,832.2 1348.0,828.0 1350.0,823.7 1352.0,819.4 1354.0,815.1 1355.1,812.7" fill="none" stroke="#0000ff" stroke-width="6.8" stroke-dasharray="6 5"/></g>
</svg></body></html>
